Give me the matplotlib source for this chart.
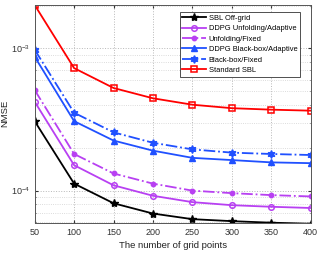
import numpy as np
import matplotlib.pyplot as plt
from matplotlib.ticker import LogLocator, NullFormatter

plt.rcParams['font.family'] = ['Liberation Sans', 'DejaVu Sans']

grid_points = [50, 100, 150, 200, 250, 300, 350, 400]
sbl_offgrid = [3.08e-4, 1.12e-4, 8.15e-5, 6.9e-5, 6.3e-5, 6.1e-5, 5.95e-5, 5.85e-5]
unfold_adaptive = [4.22e-4, 1.51e-4, 1.09e-4, 9.2e-5, 8.3e-5, 7.9e-5, 7.7e-5, 7.55e-5]
unfold_fixed = [5.1e-4, 1.81e-4, 1.32e-4, 1.12e-4, 1.0e-4, 9.6e-5, 9.3e-5, 9.1e-5]
bbox_adaptive = [8.75e-4, 3.08e-4, 2.25e-4, 1.91e-4, 1.70e-4, 1.64e-4, 1.58e-4, 1.56e-4]
bbox_fixed = [9.8e-4, 3.53e-4, 2.57e-4, 2.17e-4, 1.95e-4, 1.85e-4, 1.81e-4, 1.78e-4]
standard_sbl = [2.02e-3, 7.27e-4, 5.27e-4, 4.46e-4, 4.02e-4, 3.80e-4, 3.71e-4, 3.65e-4]

purple = '#b840f2'
blue = '#2050ff'

fig = plt.figure(figsize=(3.24, 2.57), dpi=100)
ax = fig.add_axes([0.107, 0.1335, 0.852, 0.847])

ax.semilogy(grid_points, sbl_offgrid, '-', color='black', marker='*', ms=6, lw=1.3, label='SBL Off-grid')
ax.semilogy(grid_points, unfold_adaptive, '-', color=purple, marker='o', ms=4, mfc='none', mew=1.1, lw=1.3,
            label='DDPG Unfolding/Adaptive')
ax.semilogy(grid_points, unfold_fixed, '-.', color=purple, marker='o', ms=3.2, lw=1.3, label='Unfolding/Fixed')
ax.semilogy(grid_points, bbox_adaptive, '-', color=blue, marker='^', ms=4.5, lw=1.3, label='DDPG Black-box/Adaptive')
ax.semilogy(grid_points, bbox_fixed, '-.', color=blue, marker=(6, 1, 0), ms=5.5, lw=1.3, label='Black-box/Fixed')
ax.semilogy(grid_points, standard_sbl, '-', color='red', marker='s', ms=4, mfc='none', mew=1.1, lw=1.3,
            label='Standard SBL')

ax.set_xlim(50, 400)
ax.set_ylim(5.95e-5, 2.02e-3)
ax.set_xticks(grid_points)
ax.yaxis.set_minor_locator(LogLocator(base=10, subs=np.arange(2, 10)))
ax.yaxis.set_minor_formatter(NullFormatter())
ax.grid(True, which='major', color='#b8b8b8', linestyle=':', lw=0.7)
ax.grid(True, which='minor', axis='y', color='#d0d0d0', linestyle=':', lw=0.6)
ax.tick_params(labelsize=6.5, colors='#333333', direction='in', length=2, which='both', top=True, right=True)
ax.tick_params(which='minor', length=1)
for s in ax.spines.values():
    s.set_color('#555555')
    s.set_linewidth(0.7)

ax.set_xlabel('The number of grid points', fontsize=6.8, color='#222222', labelpad=3)
ax.set_ylabel('NMSE', fontsize=6.8, color='#222222', labelpad=1)

leg = ax.legend(loc='upper right', bbox_to_anchor=(0.975, 0.985), fontsize=5.4, handlelength=3.2,
                labelspacing=0.42, borderpad=0.35, handletextpad=0.3, fancybox=False, framealpha=1)
leg.get_frame().set_edgecolor('#333333')
leg.get_frame().set_linewidth(0.6)

fig.savefig('out.png', dpi=100)
